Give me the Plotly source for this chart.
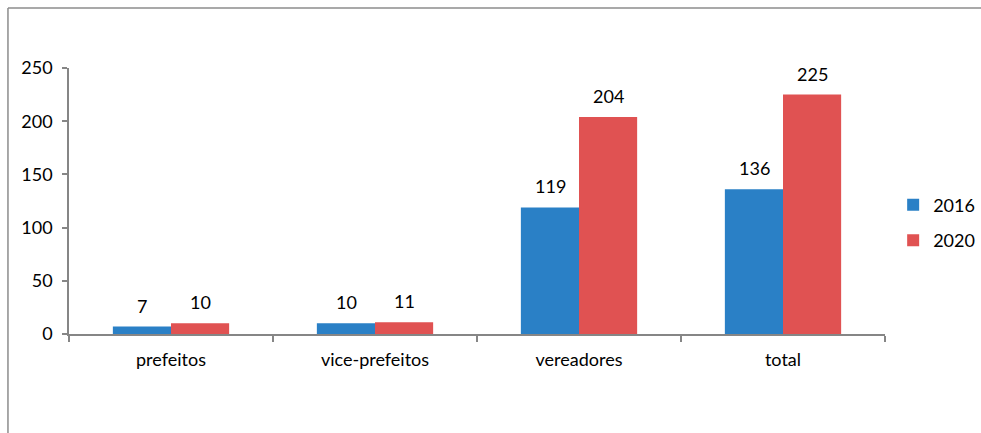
import plotly.graph_objects as go

categories = ["prefeitos", "vice-prefeitos", "vereadores", "total"]
values_2016 = [7, 10, 119, 136]
values_2020 = [10, 11, 204, 225]
series_names = ["2016", "2020"]
colors = ["#2A80C6", "#E05252"]
y_ticks = [0, 50, 100, 150, 200, 250]

FONT = "Lato"
FS = 18
fig = go.Figure()
for name, vals, col in zip(series_names, [values_2016, values_2020], colors):
    fig.add_trace(go.Bar(x=categories, y=vals, name=name, legendgroup=name,
                         marker=dict(color=col, line=dict(width=0))))

annotations = []
for vals, shift in [(values_2016, -29), (values_2020, 29)]:
    for c, v in zip(categories, vals):
        annotations.append(dict(x=c, y=v, xref="x", yref="y", text=str(v), showarrow=False,
                                xshift=shift, yshift=8, yanchor="bottom",
                                font=dict(family=FONT, size=FS, color="#000")))

fig.update_layout(
    width=981, height=433,
    margin=dict(l=69, r=96, t=68, b=99, autoexpand=False),
    paper_bgcolor="white", plot_bgcolor="white",
    barmode="group", bargap=0.43, bargroupgap=0,
    font=dict(family=FONT, size=FS, color="#000"),
    showlegend=True,
    legend=dict(x=1.010, y=0.419, xanchor="left", yanchor="middle", bgcolor="rgba(0,0,0,0)",
                font=dict(family=FONT, size=FS), tracegroupgap=9, itemwidth=30,
                traceorder="grouped"),
    annotations=annotations,
    xaxis=dict(showline=True, linecolor="#868686", linewidth=1.5, ticks="outside",
               tickson="boundaries", ticklen=6, tickcolor="#868686", tickwidth=1.5,
               showgrid=False, tickfont=dict(family=FONT, size=FS), ticklabelstandoff=9),
    yaxis=dict(range=[0, 250], tickvals=y_ticks, showline=True, linecolor="#868686", linewidth=1.5,
               ticks="outside", ticklen=5, tickcolor="#868686", tickwidth=1.5,
               showgrid=False, zeroline=False, tickfont=dict(family=FONT, size=FS),
               ticklabelstandoff=6),
    shapes=[
        dict(type="line", xref="paper", yref="paper", x0=-0.0748, x1=1.2, y0=1.2256, y1=1.2256,
             line=dict(color="#8C8C8C", width=1.5)),
        dict(type="line", xref="paper", yref="paper", x0=-0.0748, x1=-0.0748, y0=1.2256, y1=-0.5,
             line=dict(color="#8C8C8C", width=1.5)),
    ],
)
fig.write_html("out.html", config={"displayModeBar": False},
               post_script="document.body.style.margin='0';document.body.style.overflow='hidden';")
